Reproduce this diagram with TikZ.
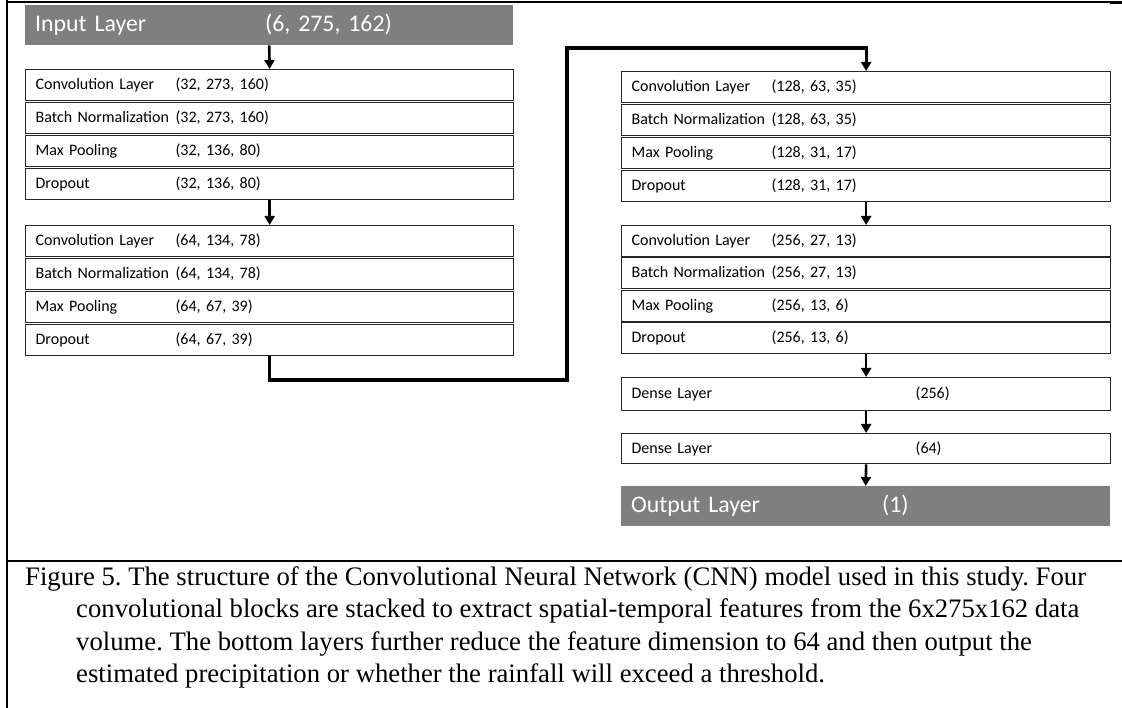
\documentclass[tikz,border=0pt]{standalone}
\usepackage{fontspec}
\usetikzlibrary{arrows.meta}
\newfontfamily\boxfont{Carlito}
\newfontfamily\capfont{Liberation Serif}
\definecolor{laygray}{HTML}{7F7F7F}
\newcommand\layertext[2]{\makebox[140pt][l]{#1}#2}
\frenchspacing
\tikzset{
  layer/.style={draw=black!85, line width=1.3pt, anchor=north west, minimum width=488pt,
    minimum height=31pt, inner xsep=10pt, inner ysep=0pt, text width=468pt, align=left,
    font=\boxfont\fontsize{16}{18}\selectfont},
  rlayer/.style={layer, minimum width=489pt, text width=469pt},
  iolayer/.style={fill=laygray, draw=none, text=white, anchor=north west, minimum width=488pt,
    minimum height=40pt, inner xsep=10pt, inner ysep=0pt, text width=468pt, align=left,
    font=\boxfont\fontsize{23.8}{26}\selectfont},
  arr/.style={line width=2.6pt, -{Triangle[width=10pt,length=9pt]}},
  conn/.style={line width=3.2pt, -{Triangle[width=10pt,length=9pt]}},
  capline/.style={anchor=base west, inner sep=0pt, font=\capfont\fontsize{26.7}{28}\selectfont},
  frame/.style={line width=2.5pt}
}
\begin{document}
\begin{tikzpicture}[x=1pt,y=-1pt]
\useasboundingbox (0,0) rectangle (1122,708);
% frame
\draw[frame] (7,0) -- (7,708);
\draw[line width=1.6pt] (7,2) -- (1110,2);
\draw[line width=3pt] (1110,3) -- (1122,3);
\draw[frame] (7,561) -- (1122,561);

% left column
\node[iolayer] (in) at (25,5) {\makebox[230pt][l]{Input Layer}(6, 275, 162)};
\node[layer] (a1) at (25,69) {\layertext{Convolution Layer}{(32, 273, 160)}};
\node[layer] (a2) at (25,102) {\layertext{Batch Normalization}{(32, 273, 160)}};
\node[layer] (a3) at (25,135) {\layertext{Max Pooling}{(32, 136, 80)}};
\node[layer] (a4) at (25,168) {\layertext{Dropout}{(32, 136, 80)}};
\node[layer] (b1) at (25,225) {\layertext{Convolution Layer}{(64, 134, 78)}};
\node[layer] (b2) at (25,258) {\layertext{Batch Normalization}{(64, 134, 78)}};
\node[layer] (b3) at (25,291) {\layertext{Max Pooling}{(64, 67, 39)}};
\node[layer] (b4) at (25,324) {\layertext{Dropout}{(64, 67, 39)}};

% right column
\node[rlayer] (c1) at (621,71) {\layertext{Convolution Layer}{(128, 63, 35)}};
\node[rlayer] (c2) at (621,104) {\layertext{Batch Normalization}{(128, 63, 35)}};
\node[rlayer] (c3) at (621,137) {\layertext{Max Pooling}{(128, 31, 17)}};
\node[rlayer] (c4) at (621,170) {\layertext{Dropout}{(128, 31, 17)}};
\node[rlayer] (d1) at (621,225) {\layertext{Convolution Layer}{(256, 27, 13)}};
\node[rlayer] (d2) at (621,257) {\layertext{Batch Normalization}{(256, 27, 13)}};
\node[rlayer] (d3) at (621,290) {\layertext{Max Pooling}{(256, 13, 6)}};
\node[rlayer] (d4) at (621,322) {\layertext{Dropout}{(256, 13, 6)}};
\node[rlayer, minimum height=33pt] (e1) at (621,377) {\makebox[284pt][l]{Dense Layer}(256)};
\node[rlayer, minimum height=30pt] (e2) at (621,433) {\makebox[284pt][l]{Dense Layer}(64)};
\node[iolayer, minimum width=489pt, text width=469pt] (out) at (621,486) {\makebox[251pt][l]{Output Layer}(1)};

% arrows
\draw[arr] (in.south) -- (a1.north);
\draw[arr] (a4.south) -- (b1.north);
\coordinate (k1) at (567,380);
\coordinate (k2) at (567,48);
\draw[conn] (b4.south) |- (k1) -- (k2) -| (c1.north);
\draw[arr] (c4.south) -- (d1.north);
\draw[arr] (d4.south) -- (e1.north);
\draw[arr] (e1.south) -- (e2.north);
\draw[arr] (e2.south) -- (out.north);

% caption
\node[capline] (cap1) at (25,585) {Figure 5. The structure of the Convolutional Neural Network (CNN) model used in this study. Four};
\node[capline] (cap2) at (76,617.5) {convolutional blocks are stacked to extract spatial-temporal features from the 6x275x162 data};
\node[capline] (cap3) at (76,650) {volume. The bottom layers further reduce the feature dimension to 64 and then output the};
\node[capline] (cap4) at (76,682.5) {estimated precipitation or whether the rainfall will exceed a threshold.};
\end{tikzpicture}
\end{document}
